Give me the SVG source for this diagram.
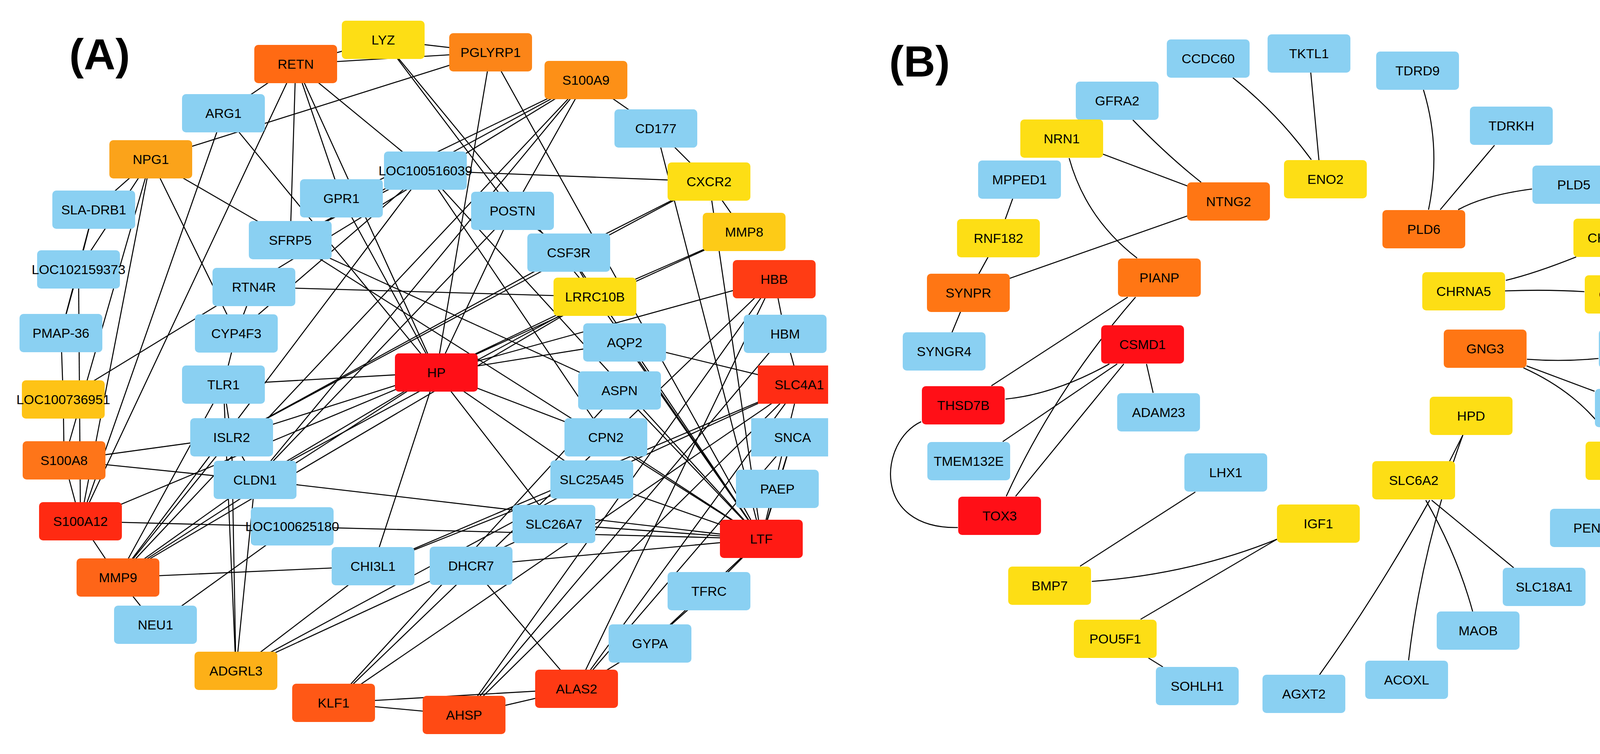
<svg xmlns="http://www.w3.org/2000/svg" width="4350" height="1931" viewBox="0 0 4350 1931">
<style>
.e line,.e path{stroke:#000;stroke-width:2.6;fill:none}
.b{fill:#8AD0F2}.y{fill:#FDDE15}.r{fill:#FF0F17}.o{fill:#FF7614}
text{font-family:"Liberation Sans",Arial,sans-serif;font-size:34px;text-anchor:middle;fill:#000}
.lab{font-size:112px;font-weight:bold}
</style>
<defs><rect id="nb" width="212" height="98" rx="10" ry="10"/></defs>
<text class="lab" x="255" y="178">(A)</text>
<text class="lab" x="2354" y="196">(B)</text>
<g class="e" id="connectors">
<line x1="757" y1="164" x2="981" y2="102"/><line x1="757" y1="164" x2="572" y2="290"/><line x1="757" y1="164" x2="206" y2="1335"/><line x1="757" y1="164" x2="743" y2="615"/><line x1="757" y1="164" x2="874" y2="508"/><line x1="757" y1="164" x2="1117" y2="954"/><line x1="757" y1="164" x2="1089" y2="437"/><line x1="757" y1="164" x2="1256" y2="134"/>
<line x1="981" y1="102" x2="1256" y2="134"/><line x1="981" y1="102" x2="1312" y2="540"/><line x1="981" y1="102" x2="1523" y2="760"/>
<line x1="1256" y1="134" x2="386" y2="408"/><line x1="1256" y1="134" x2="1117" y2="954"/><line x1="1256" y1="134" x2="1949" y2="1380"/>
<line x1="1500" y1="205" x2="1679" y2="329"/><line x1="1500" y1="205" x2="1312" y2="540"/><line x1="1500" y1="205" x2="874" y2="508"/><line x1="1500" y1="205" x2="653" y2="1229"/><line x1="1500" y1="205" x2="302" y2="1479"/><line x1="1500" y1="205" x2="162" y2="1023"/><line x1="1500" y1="205" x2="743" y2="615"/>
<line x1="1679" y1="329" x2="1815" y2="465"/><line x1="1679" y1="329" x2="1949" y2="1380"/>
<line x1="1815" y1="465" x2="1089" y2="437"/><line x1="1815" y1="465" x2="1905" y2="594"/><line x1="1815" y1="465" x2="1456" y2="647"/><line x1="1815" y1="465" x2="1949" y2="1380"/><line x1="1815" y1="465" x2="593" y2="1120"/>
<line x1="1905" y1="594" x2="1523" y2="760"/><line x1="1905" y1="594" x2="1117" y2="954"/>
<line x1="1982" y1="715" x2="2010" y2="855"/><line x1="1982" y1="715" x2="1117" y2="954"/><line x1="1982" y1="715" x2="1476" y2="1764"/><line x1="1982" y1="715" x2="1188" y2="1831"/><line x1="1982" y1="715" x2="854" y2="1800"/>
<line x1="2010" y1="855" x2="2046" y2="985"/><line x1="2010" y1="855" x2="1188" y2="1831"/>
<line x1="1599" y1="877" x2="2046" y2="985"/><line x1="1599" y1="877" x2="1117" y2="954"/><line x1="1599" y1="877" x2="1949" y2="1380"/>
<line x1="1523" y1="760" x2="650" y2="735"/><line x1="1523" y1="760" x2="1456" y2="647"/><line x1="1523" y1="760" x2="1117" y2="954"/><line x1="1523" y1="760" x2="1949" y2="1380"/><line x1="1523" y1="760" x2="653" y2="1229"/><line x1="1523" y1="760" x2="302" y2="1479"/>
<line x1="1456" y1="647" x2="1312" y2="540"/><line x1="1456" y1="647" x2="1949" y2="1380"/><line x1="1456" y1="647" x2="593" y2="1120"/>
<line x1="1089" y1="437" x2="1551" y2="1120"/><line x1="1089" y1="437" x2="743" y2="615"/><line x1="1089" y1="437" x2="605" y2="854"/><line x1="1089" y1="437" x2="1949" y2="1380"/>
<line x1="874" y1="508" x2="1117" y2="954"/>
<line x1="743" y1="615" x2="1949" y2="1380"/><line x1="743" y1="615" x2="386" y2="408"/><line x1="743" y1="615" x2="1586" y2="1000"/>
<line x1="386" y1="408" x2="240" y2="537"/><line x1="386" y1="408" x2="201" y2="690"/><line x1="386" y1="408" x2="164" y2="1179"/><line x1="386" y1="408" x2="206" y2="1335"/><line x1="386" y1="408" x2="605" y2="854"/>
<line x1="572" y1="290" x2="206" y2="1335"/><line x1="572" y1="290" x2="1117" y2="954"/>
<line x1="240" y1="537" x2="201" y2="690"/><line x1="240" y1="537" x2="156" y2="853"/><line x1="201" y1="690" x2="156" y2="853"/><line x1="156" y1="853" x2="162" y2="1023"/><line x1="162" y1="1023" x2="164" y2="1179"/><line x1="164" y1="1179" x2="206" y2="1335"/><line x1="206" y1="1335" x2="302" y2="1479"/><line x1="302" y1="1479" x2="398" y2="1600"/><line x1="201" y1="690" x2="206" y2="1335"/>
<line x1="164" y1="1179" x2="593" y2="1120"/><line x1="164" y1="1179" x2="653" y2="1229"/><line x1="653" y1="1229" x2="1949" y2="1380"/><line x1="206" y1="1335" x2="1949" y2="1380"/><line x1="206" y1="1335" x2="1117" y2="954"/>
<line x1="302" y1="1479" x2="955" y2="1450"/><line x1="302" y1="1479" x2="1117" y2="954"/><line x1="302" y1="1479" x2="653" y2="1229"/><line x1="302" y1="1479" x2="572" y2="985"/><line x1="302" y1="1479" x2="593" y2="1120"/><line x1="302" y1="1479" x2="1089" y2="437"/>
<line x1="398" y1="1600" x2="748" y2="1348"/>
<line x1="604" y1="1718" x2="653" y2="1229"/><line x1="604" y1="1718" x2="593" y2="1120"/><line x1="604" y1="1718" x2="572" y2="985"/><line x1="604" y1="1718" x2="955" y2="1450"/><line x1="604" y1="1718" x2="1418" y2="1342"/><line x1="604" y1="1718" x2="1515" y2="1228"/>
<line x1="572" y1="985" x2="593" y2="1120"/><line x1="572" y1="985" x2="1117" y2="954"/><line x1="650" y1="735" x2="605" y2="854"/><line x1="605" y1="854" x2="572" y2="985"/>
<line x1="593" y1="1120" x2="1117" y2="954"/><line x1="593" y1="1120" x2="653" y2="1229"/><line x1="653" y1="1229" x2="1117" y2="954"/>
<line x1="955" y1="1450" x2="1117" y2="954"/><line x1="955" y1="1450" x2="1515" y2="1228"/><line x1="955" y1="1450" x2="2046" y2="985"/>
<line x1="1206" y1="1449" x2="1949" y2="1380"/><line x1="1206" y1="1449" x2="1476" y2="1764"/><line x1="1418" y1="1342" x2="1949" y2="1380"/>
<line x1="1515" y1="1228" x2="2046" y2="985"/><line x1="1515" y1="1228" x2="1949" y2="1380"/>
<line x1="1551" y1="1120" x2="1117" y2="954"/><line x1="1551" y1="1120" x2="1949" y2="1380"/>
<line x1="1586" y1="1000" x2="1949" y2="1380"/><line x1="1586" y1="1000" x2="854" y2="1800"/>
<line x1="1990" y1="1252" x2="1949" y2="1380"/><line x1="2029" y1="1120" x2="1949" y2="1380"/><line x1="2029" y1="1120" x2="1990" y2="1252"/><line x1="2046" y1="985" x2="1949" y2="1380"/>
<line x1="854" y1="1800" x2="2046" y2="985"/><line x1="1188" y1="1831" x2="2046" y2="985"/><line x1="1476" y1="1764" x2="2046" y2="985"/><line x1="1476" y1="1764" x2="2029" y2="1120"/>
<line x1="1664" y1="1648" x2="1476" y2="1764"/><line x1="1664" y1="1648" x2="1949" y2="1380"/><line x1="1815" y1="1514" x2="1664" y2="1648"/><line x1="1815" y1="1514" x2="1949" y2="1380"/>
<line x1="1188" y1="1831" x2="854" y2="1800"/><line x1="1188" y1="1831" x2="1476" y2="1764"/><line x1="854" y1="1800" x2="1476" y2="1764"/>
<line x1="1117" y1="954" x2="1312" y2="540"/><line x1="1117" y1="954" x2="1418" y2="1342"/><line x1="1117" y1="954" x2="1515" y2="1228"/><line x1="1312" y1="540" x2="653" y2="1229"/>
<path d="M3156,199 Q3270,290 3357,409"/>
<line x1="3351" y1="137" x2="3381" y2="459"/>
<path d="M2900,307 Q2990,400 3075,467"/>
<line x1="2718" y1="355" x2="3145" y2="516"/>
<path d="M2737,405 Q2780,560 2911,661"/>
<line x1="2610" y1="460" x2="2556" y2="610"/>
<line x1="2556" y1="610" x2="2479" y2="750"/>
<line x1="3145" y1="516" x2="2479" y2="750"/>
<line x1="2479" y1="750" x2="2417" y2="900"/>
<line x1="2887" y1="761" x2="2538" y2="988"/>
<path d="M2907,761 Q2700,1000 2576,1271"/>
<path d="M2840,932 Q2700,1010 2574,1022"/>
<line x1="2860" y1="932" x2="2567" y2="1131"/>
<line x1="2935" y1="932" x2="2952" y2="1006"/>
<line x1="2877" y1="932" x2="2600" y2="1271"/>
<path d="M2358,1080 C2250,1130 2230,1355 2452,1351"/>
<line x1="3060" y1="1260" x2="2765" y2="1450"/>
<path d="M3269,1381 Q3050,1470 2795,1489"/>
<line x1="3269" y1="1381" x2="2920" y2="1586"/>
<line x1="2940" y1="1685" x2="2977" y2="1708"/>
<path d="M3644,230 Q3690,380 3657,537"/>
<line x1="3826" y1="372" x2="3687" y2="537"/>
<path d="M3922,484 Q3800,500 3733,537"/>
<path d="M4035,658 Q3930,700 3855,718"/>
<path d="M3853,745 Q3960,741 4056,747"/>
<path d="M4243,585 Q4290,640 4258,706"/>
<path d="M3909,920 Q4000,927 4092,918"/>
<line x1="3908" y1="937" x2="4082" y2="1002"/>
<path d="M3900,942 Q4050,1010 4126,1130"/>
<line x1="4139" y1="1230" x2="4100" y2="1303"/>
<line x1="3745" y1="1114" x2="3711" y2="1181"/>
<path d="M3745,1114 Q3640,1400 3606,1691"/>
<path d="M3660,1281 Q3520,1530 3378,1728"/>
<path d="M3650,1281 Q3730,1420 3770,1566"/>
<line x1="3665" y1="1281" x2="3875" y2="1454"/>
</g>
<g id="n-RETN"><use href="#nb" x="651" y="115" fill="#FF6A13"/><text x="757" y="176">RETN</text></g>
<g id="n-LYZ"><use href="#nb" x="875" y="53" class="y"/><text x="981" y="114">LYZ</text></g>
<g id="n-PGLYRP1"><use href="#nb" x="1150" y="85" fill="#FC8518"/><text x="1256" y="146">PGLYRP1</text></g>
<g id="n-S100A9"><use href="#nb" x="1394" y="156" fill="#FD9017"/><text x="1500" y="217">S100A9</text></g>
<g id="n-ARG1"><use href="#nb" x="466" y="241" class="b"/><text x="572" y="302">ARG1</text></g>
<g id="n-NPG1"><use href="#nb" x="280" y="359" fill="#FBA31A"/><text x="386" y="420">NPG1</text></g>
<g id="n-CD177"><use href="#nb" x="1573" y="280" class="b"/><text x="1679" y="341">CD177</text></g>
<g id="n-LOC100516039"><use href="#nb" x="983" y="388" class="b"/><text x="1089" y="449">LOC100516039</text></g>
<g id="n-CXCR2"><use href="#nb" x="1709" y="416" class="y"/><text x="1815" y="477">CXCR2</text></g>
<g id="n-GPR1"><use href="#nb" x="768" y="459" class="b"/><text x="874" y="520">GPR1</text></g>
<g id="n-SLA-DRB1"><use href="#nb" x="134" y="488" class="b"/><text x="240" y="549">SLA-DRB1</text></g>
<g id="n-POSTN"><use href="#nb" x="1206" y="491" class="b"/><text x="1312" y="552">POSTN</text></g>
<g id="n-MMP8"><use href="#nb" x="1799" y="545" fill="#FDCB17"/><text x="1905" y="606">MMP8</text></g>
<g id="n-SFRP5"><use href="#nb" x="637" y="566" class="b"/><text x="743" y="627">SFRP5</text></g>
<g id="n-CSF3R"><use href="#nb" x="1350" y="598" class="b"/><text x="1456" y="659">CSF3R</text></g>
<g id="n-LOC102159373"><use href="#nb" x="95" y="641" class="b"/><text x="201" y="702">LOC102159373</text></g>
<g id="n-HBB"><use href="#nb" x="1876" y="666" fill="#FF3C14"/><text x="1982" y="727">HBB</text></g>
<g id="n-RTN4R"><use href="#nb" x="544" y="686" class="b"/><text x="650" y="747">RTN4R</text></g>
<g id="n-LRRC10B"><use href="#nb" x="1417" y="711" class="y"/><text x="1523" y="772">LRRC10B</text></g>
<g id="n-PMAP-36"><use href="#nb" x="50" y="804" class="b"/><text x="156" y="865">PMAP-36</text></g>
<g id="n-CYP4F3"><use href="#nb" x="499" y="805" class="b"/><text x="605" y="866">CYP4F3</text></g>
<g id="n-HBM"><use href="#nb" x="1904" y="806" class="b"/><text x="2010" y="867">HBM</text></g>
<g id="n-AQP2"><use href="#nb" x="1493" y="828" class="b"/><text x="1599" y="889">AQP2</text></g>
<g id="n-HP"><use href="#nb" x="1011" y="905" class="r"/><text x="1117" y="966">HP</text></g>
<g id="n-TLR1"><use href="#nb" x="466" y="936" class="b"/><text x="572" y="997">TLR1</text></g>
<g id="n-SLC4A1"><rect x="1940" y="936" width="180" height="98" fill="#FF2C14"/><text x="2046" y="997">SLC4A1</text></g>
<g id="n-ASPN"><use href="#nb" x="1480" y="951" class="b"/><text x="1586" y="1012">ASPN</text></g>
<g id="n-LOC100736951"><use href="#nb" x="56" y="974" fill="#FEC316"/><text x="162" y="1035">LOC100736951</text></g>
<g id="n-ISLR2"><use href="#nb" x="487" y="1071" class="b"/><text x="593" y="1132">ISLR2</text></g>
<g id="n-CPN2"><use href="#nb" x="1445" y="1071" class="b"/><text x="1551" y="1132">CPN2</text></g>
<g id="n-SNCA"><rect x="1923" y="1071" width="197" height="98" class="b"/><text x="2029" y="1132">SNCA</text></g>
<g id="n-S100A8"><use href="#nb" x="58" y="1130" fill="#FE7519"/><text x="164" y="1191">S100A8</text></g>
<g id="n-CLDN1"><use href="#nb" x="547" y="1180" class="b"/><text x="653" y="1241">CLDN1</text></g>
<g id="n-SLC25A45"><use href="#nb" x="1409" y="1179" class="b"/><text x="1515" y="1240">SLC25A45</text></g>
<g id="n-PAEP"><use href="#nb" x="1884" y="1203" class="b"/><text x="1990" y="1264">PAEP</text></g>
<g id="n-S100A12"><use href="#nb" x="100" y="1286" fill="#FF2A12"/><text x="206" y="1347">S100A12</text></g>
<g id="n-SLC26A7"><use href="#nb" x="1312" y="1293" class="b"/><text x="1418" y="1354">SLC26A7</text></g>
<g id="n-LOC100625180"><use href="#nb" x="642" y="1299" class="b"/><text x="748" y="1360">LOC100625180</text></g>
<g id="n-LTF"><use href="#nb" x="1843" y="1331" fill="#FF1A14"/><text x="1949" y="1392">LTF</text></g>
<g id="n-CHI3L1"><use href="#nb" x="849" y="1401" class="b"/><text x="955" y="1462">CHI3L1</text></g>
<g id="n-DHCR7"><use href="#nb" x="1100" y="1400" class="b"/><text x="1206" y="1461">DHCR7</text></g>
<g id="n-MMP9"><use href="#nb" x="196" y="1430" fill="#FE6518"/><text x="302" y="1491">MMP9</text></g>
<g id="n-TFRC"><use href="#nb" x="1709" y="1465" class="b"/><text x="1815" y="1526">TFRC</text></g>
<g id="n-NEU1"><use href="#nb" x="292" y="1551" class="b"/><text x="398" y="1612">NEU1</text></g>
<g id="n-GYPA"><use href="#nb" x="1558" y="1599" class="b"/><text x="1664" y="1660">GYPA</text></g>
<g id="n-ADGRL3"><use href="#nb" x="498" y="1669" fill="#FDB018"/><text x="604" y="1730">ADGRL3</text></g>
<g id="n-ALAS2"><use href="#nb" x="1370" y="1715" fill="#FF3A14"/><text x="1476" y="1776">ALAS2</text></g>
<g id="n-KLF1"><use href="#nb" x="748" y="1751" fill="#FF5816"/><text x="854" y="1812">KLF1</text></g>
<g id="n-AHSP"><use href="#nb" x="1082" y="1782" fill="#FF4A14"/><text x="1188" y="1843">AHSP</text></g>
<g id="n-CCDC60"><use href="#nb" x="2987" y="101" class="b"/><text x="3093" y="162">CCDC60</text></g>
<g id="n-TKTL1"><use href="#nb" x="3245" y="88" class="b"/><text x="3351" y="149">TKTL1</text></g>
<g id="n-TDRD9"><use href="#nb" x="3523" y="132" class="b"/><text x="3629" y="193">TDRD9</text></g>
<g id="n-GFRA2"><use href="#nb" x="2754" y="209" class="b"/><text x="2860" y="270">GFRA2</text></g>
<g id="n-TDRKH"><use href="#nb" x="3763" y="273" class="b"/><text x="3869" y="334">TDRKH</text></g>
<g id="n-NRN1"><use href="#nb" x="2612" y="306" class="y"/><text x="2718" y="367">NRN1</text></g>
<g id="n-ENO2"><use href="#nb" x="3287" y="410" class="y"/><text x="3393" y="471">ENO2</text></g>
<g id="n-MPPED1"><use href="#nb" x="2504" y="411" class="b"/><text x="2610" y="472">MPPED1</text></g>
<g id="n-PLD5"><use href="#nb" x="3923" y="424" class="b"/><text x="4029" y="485">PLD5</text></g>
<g id="n-NTNG2"><use href="#nb" x="3039" y="467" class="o"/><text x="3145" y="528">NTNG2</text></g>
<g id="n-PLD6"><use href="#nb" x="3539" y="538" class="o"/><text x="3645" y="599">PLD6</text></g>
<g id="n-CHRNA9"><use href="#nb" x="4028" y="560" class="y"/><text x="4134" y="621">CHRNA9</text></g>
<g id="n-RNF182"><use href="#nb" x="2450" y="561" class="y"/><text x="2556" y="622">RNF182</text></g>
<g id="n-PIANP"><use href="#nb" x="2862" y="662" class="o"/><text x="2968" y="723">PIANP</text></g>
<g id="n-CHRNA5"><use href="#nb" x="3641" y="697" class="y"/><text x="3747" y="758">CHRNA5</text></g>
<g id="n-SYNPR"><use href="#nb" x="2373" y="701" class="o"/><text x="2479" y="762">SYNPR</text></g>
<g id="n-CHRNA6"><use href="#nb" x="4057" y="705" class="y"/><text x="4163" y="766">CHRNA6</text></g>
<g id="n-CSMD1"><use href="#nb" x="2819" y="833" class="r"/><text x="2925" y="894">CSMD1</text></g>
<g id="n-GNG3"><use href="#nb" x="3696" y="844" class="o"/><text x="3802" y="905">GNG3</text></g>
<g id="n-PTGER3"><use href="#nb" x="4093" y="844" class="b"/><text x="4199" y="905">PTGER3</text></g>
<g id="n-SYNGR4"><use href="#nb" x="2311" y="851" class="b"/><text x="2417" y="912">SYNGR4</text></g>
<g id="n-THSD7B"><use href="#nb" x="2360" y="989" class="r"/><text x="2466" y="1050">THSD7B</text></g>
<g id="n-ADCY2"><use href="#nb" x="4083" y="996" class="b"/><text x="4189" y="1057">ADCY2</text></g>
<g id="n-ADAM23"><use href="#nb" x="2860" y="1007" class="b"/><text x="2966" y="1068">ADAM23</text></g>
<g id="n-HPD"><use href="#nb" x="3660" y="1016" class="y"/><text x="3766" y="1077">HPD</text></g>
<g id="n-TMEM132E"><use href="#nb" x="2374" y="1132" class="b"/><text x="2480" y="1193">TMEM132E</text></g>
<g id="n-GPER1"><use href="#nb" x="4059" y="1131" class="y"/><text x="4165" y="1192">GPER1</text></g>
<g id="n-LHX1"><use href="#nb" x="3032" y="1161" class="b"/><text x="3138" y="1222">LHX1</text></g>
<g id="n-SLC6A2"><use href="#nb" x="3513" y="1181" class="y"/><text x="3619" y="1242">SLC6A2</text></g>
<g id="n-TOX3"><use href="#nb" x="2453" y="1272" class="r"/><text x="2559" y="1333">TOX3</text></g>
<g id="n-IGF1"><use href="#nb" x="3269" y="1292" class="y"/><text x="3375" y="1353">IGF1</text></g>
<g id="n-PENK"><use href="#nb" x="3968" y="1303" class="b"/><text x="4074" y="1364">PENK</text></g>
<g id="n-BMP7"><use href="#nb" x="2581" y="1451" class="y"/><text x="2687" y="1512">BMP7</text></g>
<g id="n-SLC18A1"><use href="#nb" x="3847" y="1454" class="b"/><text x="3953" y="1515">SLC18A1</text></g>
<g id="n-MAOB"><use href="#nb" x="3678" y="1566" class="b"/><text x="3784" y="1627">MAOB</text></g>
<g id="n-POU5F1"><use href="#nb" x="2749" y="1587" class="y"/><text x="2855" y="1648">POU5F1</text></g>
<g id="n-ACOXL"><use href="#nb" x="3495" y="1692" class="b"/><text x="3601" y="1753">ACOXL</text></g>
<g id="n-SOHLH1"><use href="#nb" x="2959" y="1708" class="b"/><text x="3065" y="1769">SOHLH1</text></g>
<g id="n-AGXT2"><use href="#nb" x="3232" y="1728" class="b"/><text x="3338" y="1789">AGXT2</text></g>
</svg>
